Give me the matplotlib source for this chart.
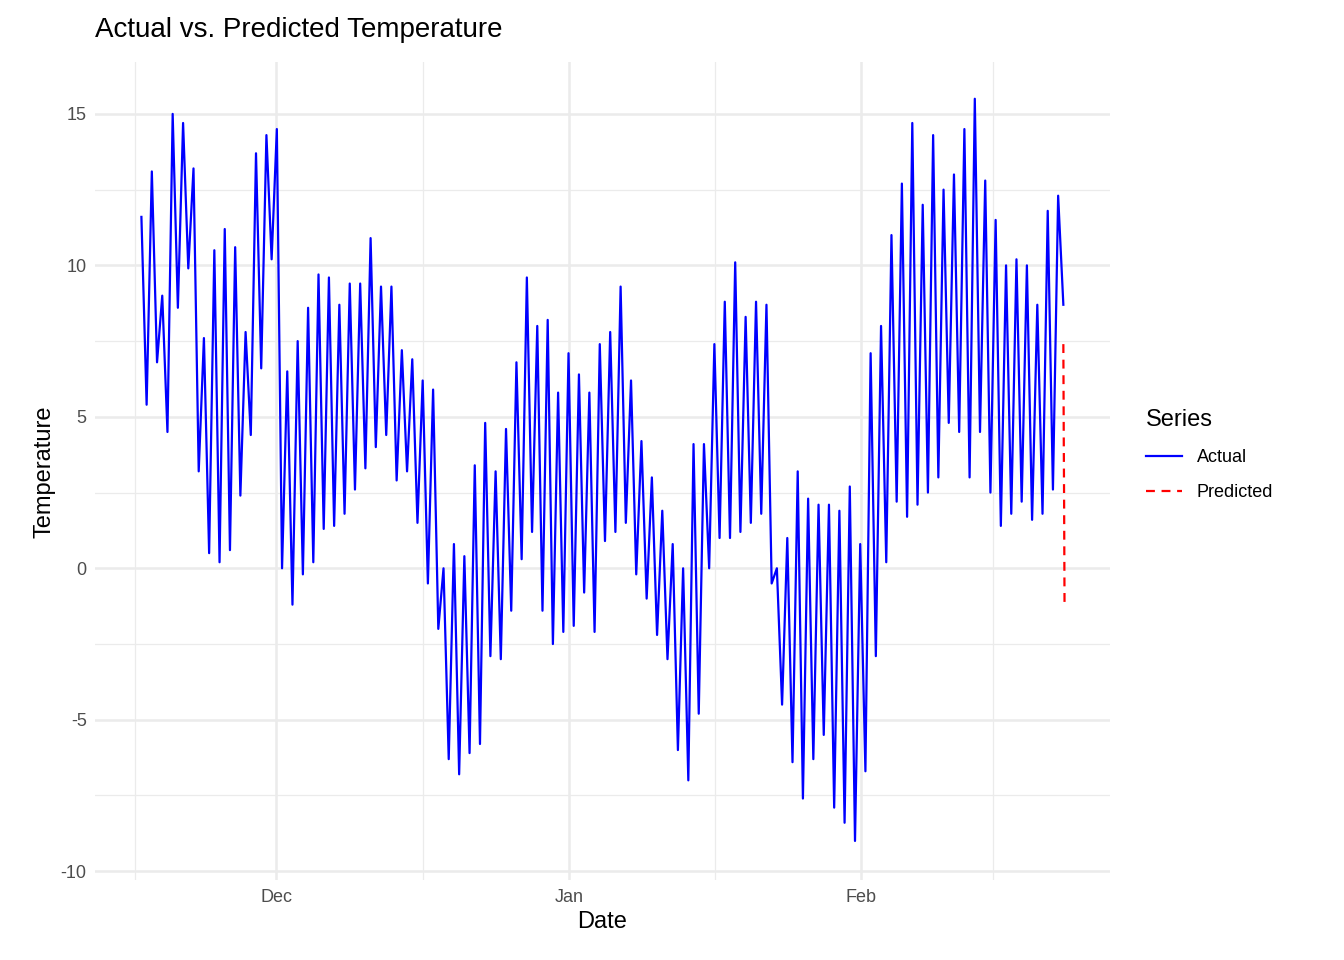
import matplotlib
matplotlib.use("Agg")
import matplotlib.pyplot as plt
import datetime as dt

plt.rcParams['font.family'] = ['Liberation Sans', 'DejaVu Sans']
plt.rcParams['axes.unicode_minus'] = False

start_day = "2023-11-16 17:00"
end_day = "2024-02-22 10:00"
# alternating (high, low) cycles
daily_hi = [11.6, 13.1, 9.0, 15.0, 14.7, 13.2, 7.6, 10.5, 11.2, 10.6, 7.8, 13.7, 14.3, 14.5,
            6.5, 7.5, 8.6, 9.7, 9.6, 8.7, 9.4, 9.4, 10.9, 9.3, 9.3, 7.2, 6.9, 6.2, 5.9, 0.0,
            0.8, 0.4, 3.4, 4.8, 3.2, 4.6, 6.8, 9.6, 8.0, 8.2, 5.8, 7.1, 6.4, 5.8, 7.4,
            7.8, 9.3, 6.2, 4.2, 3.0, 1.9, 0.8, 0.0, 4.1, 4.1, 7.4, 8.8, 10.1, 8.3, 8.8, 8.7,
            0.0, 1.0, 3.2, 2.3, 2.1, 2.1, 1.9, 2.7, 0.8, 7.1, 8.0, 11.0, 12.7, 14.7, 12.0,
            14.3, 12.5, 13.0, 14.5, 15.5, 12.8, 11.5, 10.0, 10.2, 10.0, 8.7, 11.8, 12.3]
daily_lo = [5.4, 6.8, 4.5, 8.6, 9.9, 3.2, 0.5, 0.2, 0.6, 2.4, 4.4, 6.6, 10.2, 0.0,
            -1.2, -0.2, 0.2, 1.3, 1.4, 1.8, 2.6, 3.3, 4.0, 4.4, 2.9, 3.2, 1.5, -0.5, -2.0, -6.3,
            -6.8, -6.1, -5.8, -2.9, -3.0, -1.4, 0.3, 1.2, -1.4, -2.5, -2.1, -1.9, -0.8, -2.1, 0.9,
            1.2, 1.5, -0.2, -1.0, -2.2, -3.0, -6.0, -7.0, -4.8, 0.0, 1.0, 1.0, 1.2, 1.5, 1.8, -0.5,
            -4.5, -6.4, -7.6, -6.3, -5.5, -7.9, -8.4, -9.0, -6.7, -2.9, 0.2, 2.2, 1.7, 2.1, 2.5,
            3.0, 4.8, 4.5, 3.0, 4.5, 2.5, 1.4, 1.8, 2.2, 1.6, 1.8, 2.6, 8.7]
pred_vals = [7.4, 4.4, 2.0, -1.2]

t0 = dt.datetime.fromisoformat(start_day)
t1 = dt.datetime.fromisoformat(end_day)
n = len(daily_hi)
step = (t1 - t0) / (n - 0.5)
act_t, act_v = [], []
for i, (h, l) in enumerate(zip(daily_hi, daily_lo)):
    act_t += [t0 + step * i, t0 + step * (i + 0.5)]
    act_v += [h, l]
last = act_t[-1]
pred_t = [last + dt.timedelta(hours=k) for k in range(len(pred_vals))]

fig = plt.figure(figsize=(13.44, 9.6), dpi=100)
ax = fig.add_axes([0.0707, 0.083, 0.755, 0.852])
ax.plot(act_t, act_v, color="blue", lw=1.6, label="Actual")
ax.plot(pred_t, pred_vals, color="red", lw=1.6, ls=(0, (4, 3)), label="Predicted")

ax.set_xlim(dt.datetime(2023, 11, 11, 19), dt.datetime(2024, 2, 27, 8))
ax.set_ylim(-10.3, 16.7)
ax.set_yticks([-10, -5, 0, 5, 10, 15])
ax.set_yticks([-7.5, -2.5, 2.5, 7.5, 12.5], minor=True)
ax.set_xticks([dt.datetime(2023, 12, 1), dt.datetime(2024, 1, 1), dt.datetime(2024, 2, 1)])
ax.set_xticklabels(["Dec", "Jan", "Feb"])
ax.set_xticks([dt.datetime(2023, 11, 16), dt.datetime(2023, 12, 16, 12),
               dt.datetime(2024, 1, 16, 12), dt.datetime(2024, 2, 15)], minor=True)
ax.grid(which="major", color="#ebebeb", lw=1.8)
ax.grid(which="minor", color="#ebebeb", lw=0.9)
ax.set_axisbelow(True)
for s in ax.spines.values():
    s.set_visible(False)
ax.tick_params(which="both", length=0, labelsize=13, colors="#4d4d4d", pad=6)
ax.set_xlabel("Date", fontsize=17)
ax.set_ylabel("Temperature", fontsize=17)
ax.set_title("Actual vs. Predicted Temperature", fontsize=20, loc="left", x=0.0, pad=18)
leg = ax.legend(title="Series", loc="center left", bbox_to_anchor=(1.02, 0.52),
                frameon=False, fontsize=13, title_fontsize=17, handlelength=2.0,
                labelspacing=1.0)
leg._legend_box.align = "left"
fig.savefig("out.png", dpi=100, facecolor="white")
